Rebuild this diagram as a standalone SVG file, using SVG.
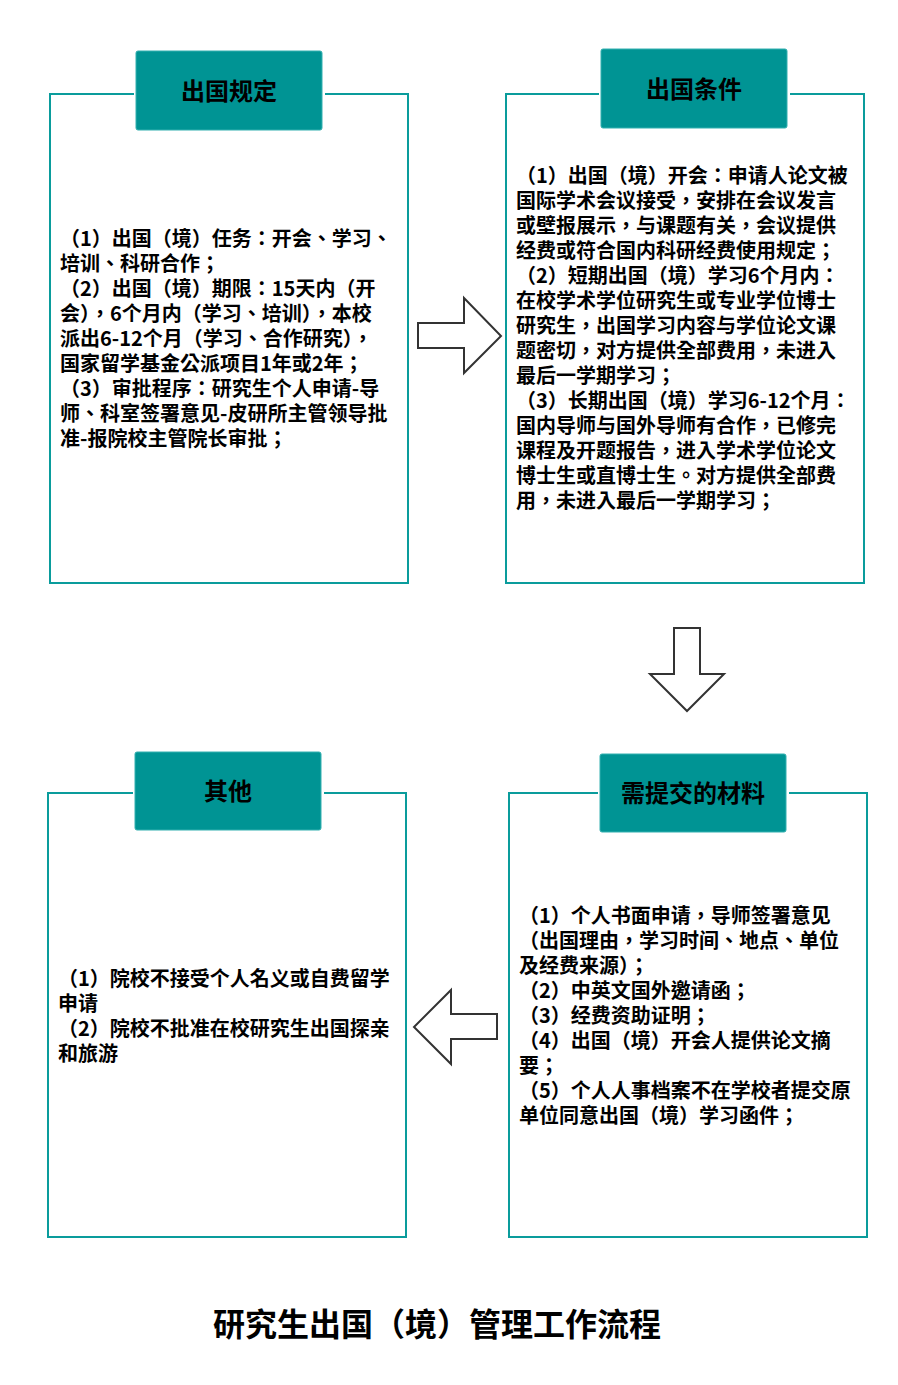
<svg xmlns="http://www.w3.org/2000/svg" width="898" height="1385" viewBox="0 0 898 1385">
<style>
.frame{fill:none;stroke:#0a9c9c;stroke-width:2}
.hdr{fill:#009494;stroke:#33b0b0;stroke-width:1}
.ht{font-family:"Noto Sans CJK SC","Noto Sans",sans-serif;font-weight:700;font-size:24px;fill:#000;text-anchor:middle}
.bt{font-family:"Noto Sans CJK TC","Noto Sans CJK SC","Noto Sans",sans-serif;font-weight:700;font-size:20px;fill:#000}
.arr{fill:#fff;stroke:#333;stroke-width:2;stroke-linejoin:miter}
.title{font-family:"Noto Sans CJK SC","Noto Sans",sans-serif;font-weight:700;font-size:32px;fill:#000;text-anchor:middle}
</style>
<rect width="898" height="1385" fill="#fff"/>
<g id="node-guiding">
<path class="frame" d="M134,94 H50 V583 H408 V94 H325"/>
<rect class="hdr" x="136" y="51" width="186" height="79" rx="2"/>
<text class="ht" x="229" y="100">出国规定</text>
<text class="bt">
<tspan x="60" y="246">（1）出国（境）任务：开会、学习、</tspan>
<tspan x="60" y="271">培训、科研合作；</tspan>
<tspan x="60" y="296">（2）出国（境）期限：15天内（开</tspan>
<tspan x="60" y="321">会），6个月内（学习、培训），本校</tspan>
<tspan x="60" y="346">派出6-12个月（学习、合作研究），</tspan>
<tspan x="60" y="371">国家留学基金公派项目1年或2年；</tspan>
<tspan x="60" y="396">（3）审批程序：研究生个人申请-导</tspan>
<tspan x="60" y="421">师、科室签署意见-皮研所主管领导批</tspan>
<tspan x="60" y="446">准-报院校主管院长审批；</tspan>
</text>
</g>
<g id="node-conditions">
<path class="frame" d="M599,94 H506 V583 H864 V94 H790"/>
<rect class="hdr" x="601" y="49" width="186" height="79" rx="2"/>
<text class="ht" x="694" y="98">出国条件</text>
<text class="bt">
<tspan x="516" y="183">（1）出国（境）开会：申请人论文被</tspan>
<tspan x="516" y="208">国际学术会议接受，安排在会议发言</tspan>
<tspan x="516" y="233">或壁报展示，与课题有关，会议提供</tspan>
<tspan x="516" y="258">经费或符合国内科研经费使用规定；</tspan>
<tspan x="516" y="283">（2）短期出国（境）学习6个月内：</tspan>
<tspan x="516" y="308">在校学术学位研究生或专业学位博士</tspan>
<tspan x="516" y="333">研究生，出国学习内容与学位论文课</tspan>
<tspan x="516" y="358">题密切，对方提供全部费用，未进入</tspan>
<tspan x="516" y="383">最后一学期学习；</tspan>
<tspan x="516" y="408">（3）长期出国（境）学习6-12个月：</tspan>
<tspan x="516" y="433">国内导师与国外导师有合作，已修完</tspan>
<tspan x="516" y="458">课程及开题报告，进入学术学位论文</tspan>
<tspan x="516" y="483">博士生或直博士生。对方提供全部费</tspan>
<tspan x="516" y="508">用，未进入最后一学期学习；</tspan>
</text>
</g>
<g id="node-materials">
<path class="frame" d="M598,793 H509 V1237 H867 V793 H789"/>
<rect class="hdr" x="600" y="754" width="186" height="78" rx="2"/>
<text class="ht" x="693" y="802">需提交的材料</text>
<text class="bt">
<tspan x="519" y="923">（1）个人书面申请，导师签署意见</tspan>
<tspan x="519" y="948">（出国理由，学习时间、地点、单位</tspan>
<tspan x="519" y="973">及经费来源）；</tspan>
<tspan x="519" y="998">（2）中英文国外邀请函；</tspan>
<tspan x="519" y="1023">（3）经费资助证明；</tspan>
<tspan x="519" y="1048">（4）出国（境）开会人提供论文摘</tspan>
<tspan x="519" y="1073">要；</tspan>
<tspan x="519" y="1098">（5）个人人事档案不在学校者提交原</tspan>
<tspan x="519" y="1123">单位同意出国（境）学习函件；</tspan>
</text>
</g>
<g id="node-other">
<path class="frame" d="M133,793 H48 V1237 H406 V793 H324"/>
<rect class="hdr" x="135" y="752" width="186" height="78" rx="2"/>
<text class="ht" x="228" y="800">其他</text>
<text class="bt">
<tspan x="58" y="986">（1）院校不接受个人名义或自费留学</tspan>
<tspan x="58" y="1011">申请</tspan>
<tspan x="58" y="1036">（2）院校不批准在校研究生出国探亲</tspan>
<tspan x="58" y="1061">和旅游</tspan>
</text>
</g>
<g id="connectors">
<polygon class="arr" points="418,323 464,323 464,298 501,336 464,373 464,348 418,348"/>
<polygon class="arr" points="674,628 700,628 700,674 724,674 687,711 650,674 674,674"/>
<polygon class="arr" points="497,1014 451,1014 451,990 414,1027 451,1064 451,1039 497,1039"/>
</g>
<text class="title" x="437" y="1336">研究生出国（境）管理工作流程</text>
</svg>
